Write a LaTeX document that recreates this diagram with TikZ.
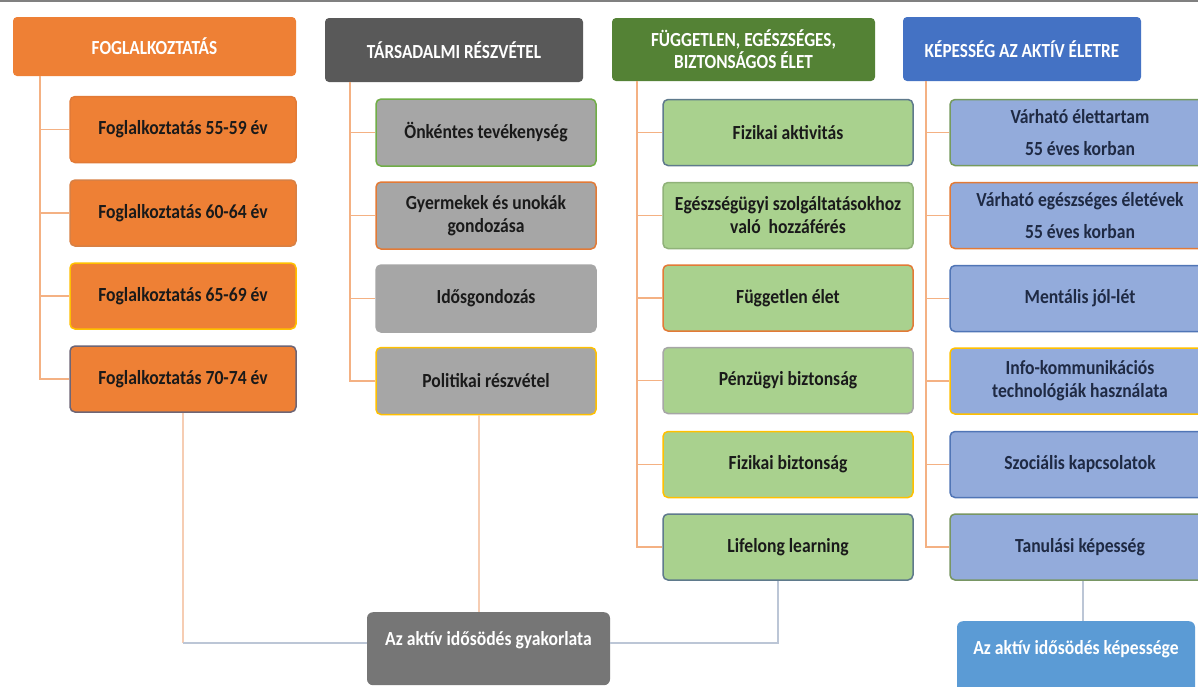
\documentclass[tikz,border=0pt]{standalone}
\usepackage{fontspec}
\newfontfamily\cf{Carlito}[FakeStretch=0.88]
\newfontfamily\hf{Carlito}[FakeStretch=0.86]
\definecolor{orng}{HTML}{EE8035}
\definecolor{dgray}{HTML}{595959}
\definecolor{lgray}{HTML}{A6A6A6}
\definecolor{dgreen}{HTML}{548235}
\definecolor{lgreen}{HTML}{A9D18E}
\definecolor{dblue}{HTML}{4472C4}
\definecolor{lblue}{HTML}{93ABDB}
\definecolor{mblue}{HTML}{5B9BD5}
\definecolor{mgray}{HTML}{767676}
\definecolor{peach}{HTML}{F4B183}
\definecolor{lpeach}{HTML}{F6CDB3}
\definecolor{bgray}{HTML}{BCC6D6}
\definecolor{bdyel}{HTML}{FFC000}
\definecolor{bdgrn}{HTML}{70AD47}
\definecolor{bdslate}{HTML}{5F7A8C}
\definecolor{bdorg}{HTML}{E27A36}
\definecolor{bdplum}{HTML}{6E6575}
\definecolor{txtd}{HTML}{1A1A1A}
\definecolor{txtn}{HTML}{1F2A44}
\tikzset{
  hdr/.style={rounded corners=4pt, inner sep=0pt, align=center, text=white,
    font={\hf\fontsize{20}{22}\selectfont\bfseries}},
  child/.style={draw, line width=1.5pt, rounded corners=5pt, inner sep=0pt, align=center,
    text=txtd, font={\cf\fontsize{20}{23}\selectfont\bfseries}},
  c1/.style={child, fill=orng, minimum width=226pt, minimum height=66pt},
  c2/.style={child, fill=lgray, minimum width=220pt, minimum height=67pt},
  c3/.style={child, fill=lgreen, minimum width=250pt, minimum height=66pt},
  c4/.style={child, fill=lblue, text=txtn, minimum width=260pt, minimum height=66pt},
  tree/.style={draw=peach, line width=1.8pt},
  lowpeach/.style={draw=lpeach, line width=1.6pt},
  lowblue/.style={draw=bgray, line width=1.6pt},
  result/.style={rounded corners=6pt, inner sep=0pt, text=white,
    font={\cf\fontsize{20}{23}\selectfont\bfseries}, text height=33pt, text depth=40pt}
}
\begin{document}
\begin{tikzpicture}[x=1pt,y=-1pt]
\useasboundingbox (0,0) rectangle (1198,686);
\clip (0,0) rectangle (1198,686);
\fill[white] (0,0) rectangle (1198,686);
\draw[gray, line width=2pt] (0,1) -- (1198,1);

% column 1
\node[hdr, fill=orng, minimum width=283pt, minimum height=59pt] (h1) at (154.5,46.5) {FOGLALKOZTATÁS};
\node[c1, draw=bdorg] (c11) at (183,129.5) {Foglalkoztatás 55-59 év};
\node[c1, draw=orng!80!gray] (c12) at (183,213) {Foglalkoztatás 60-64 év};
\node[c1, draw=bdyel] (c13) at (183,296) {Foglalkoztatás 65-69 év};
\node[c1, draw=bdplum] (c14) at (183,379) {Foglalkoztatás 70-74 év};

% column 2
\node[hdr, fill=dgray, minimum width=258pt, minimum height=64pt] (h2) at (454,50) {TÁRSADALMI RÉSZVÉTEL};
\node[c2, draw=bdgrn] (c21) at (486,132.5) {Önkéntes tevékenység};
\node[c2, draw=bdorg] (c22) at (486,215.5) {Gyermekek és unokák\\gondozása};
\node[c2, draw=lgray] (c23) at (486,298.5) {Idősgondozás};
\node[c2, draw=bdyel] (c24) at (486,381) {Politikai részvétel};

% column 3
\node[hdr, fill=dgreen, minimum width=263pt, minimum height=63pt] (h3) at (743.5,49.5) {FÜGGETLEN, EGÉSZSÉGES,\\BIZTONSÁGOS ÉLET};
\node[c3, draw=bdslate] (c31) at (788,132.5) {Fizikai aktivitás};
\node[c3, draw=lgreen!85!black] (c32) at (788,215.5) {Egészségügyi szolgáltatásokhoz\\való\ \ hozzáférés};
\node[c3, draw=bdorg] (c33) at (788,298) {Független élet};
\node[c3, draw=lgray] (c34) at (788,380.5) {Pénzügyi biztonság};
\node[c3, draw=bdyel] (c35) at (788,464.5) {Fizikai biztonság};
\node[c3, draw=bdslate] (c36) at (788,547) {Lifelong learning};

% column 4
\node[hdr, fill=dblue, minimum width=238pt, minimum height=64pt] (h4) at (1022,49) {KÉPESSÉG AZ AKTÍV ÉLETRE};
\node[c4, draw=bdgrn!60!gray] (c41) at (1080,132.5) {Várható élettartam\\[9pt]55 éves korban};
\node[c4, draw=bdorg] (c42) at (1080,215.5) {Várható egészséges életévek\\[9pt]55 éves korban};
\node[c4, draw=dblue!80!gray] (c43) at (1080,298.5) {Mentális jól-lét};
\node[c4, draw=bdyel] (c44) at (1080,381) {Info-kommunikációs\\technológiák használata};
\node[c4, draw=dblue!80!gray] (c45) at (1080,464.5) {Szociális kapcsolatok};
\node[c4, draw=bdgrn!50!gray] (c46) at (1080,547) {Tanulási képesség};

% results
\node[result, fill=mgray, minimum width=243pt] (gy) at (488.5,612) [anchor=north] {Az aktív idősödés gyakorlata};
\node[result, fill=mblue, minimum width=238pt] (kep) at (1076,621) [anchor=north] {Az aktív idősödés képessége};

% tree connectors
\coordinate (t1) at ([xshift=27pt]h1.south west);
\coordinate (t2) at ([xshift=25pt]h2.south west);
\coordinate (t3) at ([xshift=25pt]h3.south west);
\coordinate (t4) at ([xshift=23pt]h4.south west);
\draw[tree] (t1) |- (c14.west);
\foreach \n in {c11,c12,c13} \draw[tree] (t1 |- \n.west) -- (\n.west);
\draw[tree] (t2) |- (c24.west);
\foreach \n in {c21,c22,c23} \draw[tree] (t2 |- \n.west) -- (\n.west);
\draw[tree] (t3) |- (c36.west);
\foreach \n in {c31,c32,c33,c34,c35} \draw[tree] (t3 |- \n.west) -- (\n.west);
\draw[tree] (t4) |- (c46.west);
\foreach \n in {c41,c42,c43,c44,c45} \draw[tree] (t4 |- \n.west) -- (\n.west);

% bottom connectors
\coordinate (k1) at (c14.south |- gy.mid west);
\draw[lowpeach] (c14.south) -- (k1);
\draw[lowblue] (k1) -- (gy.mid west);
\coordinate (k2) at ([xshift=-7pt]c24.south);
\draw[lowpeach] (k2) -- (k2 |- gy.north);
\coordinate (k3) at ([xshift=-10pt]c36.south);
\draw[lowblue] (k3) |- (gy.mid east);
\coordinate (k4) at ([xshift=3pt]c46.south);
\draw[lowblue] (k4) -- (k4 |- kep.north);
\end{tikzpicture}
\end{document}
